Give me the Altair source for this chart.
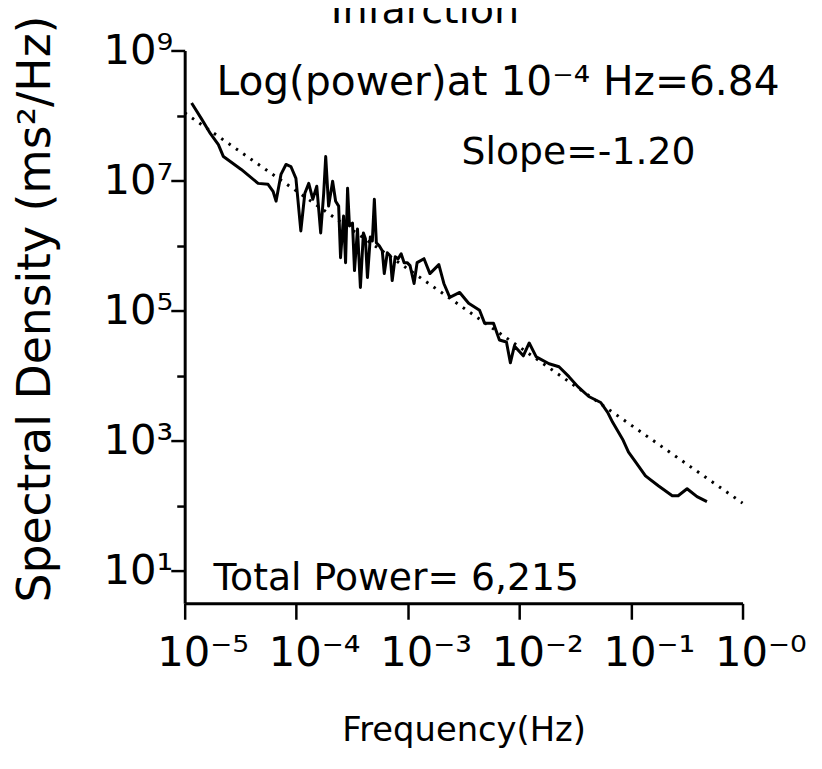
import json
import altair as alt
import pandas as pd

# ---- data (log10 values) ----
log_freq = [-4.938, -4.849, -4.769, -4.698, -4.653, -4.493, -4.342, -4.253, -4.208, -4.181,
            -4.137, -4.092, -4.048, -4.003, -3.959, -3.923, -3.888, -3.852, -3.816, -3.781,
            -3.754, -3.736, -3.710, -3.674, -3.647, -3.620, -3.603, -3.576, -3.558, -3.540,
            -3.523, -3.496, -3.478, -3.451, -3.425, -3.398, -3.380, -3.362, -3.336, -3.318,
            -3.300, -3.282, -3.256, -3.229, -3.211, -3.184, -3.158, -3.140, -3.113, -3.087,
            -3.060, -3.033, -3.006, -2.980, -2.944, -2.917, -2.855, -2.802, -2.722, -2.677,
            -2.624, -2.535, -2.455, -2.357, -2.312, -2.232, -2.179, -2.116, -2.081, -2.045,
            -1.965, -1.912, -1.849, -1.734, -1.645, -1.556, -1.476, -1.378, -1.271, -1.209,
            -1.164, -1.075, -1.022, -0.959, -0.870, -0.755, -0.630, -0.577, -0.497, -0.408,
            -0.319]
log_psd = [8.192, 7.948, 7.720, 7.552, 7.369, 7.171, 6.957, 6.942, 6.835, 6.683,
           7.094, 7.247, 7.216, 7.034, 6.226, 6.805, 6.957, 6.713, 6.912, 6.195,
           6.805, 7.369, 6.607, 6.988, 6.683, 6.607, 5.814, 6.454, 5.738, 6.881,
           6.302, 6.348, 5.616, 6.256, 5.357, 6.195, 6.104, 5.509, 6.134, 6.073,
           6.713, 6.043, 5.997, 5.921, 5.570, 5.890, 5.845, 5.463, 5.829, 5.799,
           5.875, 5.738, 5.738, 5.692, 5.418, 5.738, 5.799, 5.570, 5.707, 5.418,
           5.204, 5.280, 5.113, 5.006, 4.808, 4.808, 4.549, 4.518, 4.198, 4.457,
           4.305, 4.503, 4.290, 4.183, 4.137, 3.985, 3.832, 3.680, 3.588, 3.436,
           3.283, 3.024, 2.826, 2.674, 2.460, 2.308, 2.155, 2.155, 2.262, 2.140,
           2.064]

# fitted regression line (dotted), end points
fit_freq = [1e-5, 1.0]
fit_psd = [1.1e8, 110.0]

x_ticks = [1e-5, 1e-4, 1e-3, 1e-2, 1e-1, 1.0]
x_tick_labels = ["10⁻⁵", "10⁻⁴", "10⁻³", "10⁻²", "10⁻¹", "10⁻⁰"]
y_ticks = [1e1, 1e2, 1e3, 1e4, 1e5, 1e6, 1e7, 1e8, 1e9]
y_tick_labels = ["", "10¹", "", "10³", "", "10⁵", "", "10⁷", "", "10⁹"]

title_text = "Infarction"
note_texts = ["Log(power)at 10⁻⁴ Hz=6.84", "Slope=-1.20", "Total Power= 6,215"]

FONT = "DejaVu Sans"

spec_df = pd.DataFrame({"freq": [10 ** v for v in log_freq],
                        "psd": [10 ** v for v in log_psd]})
fit_df = pd.DataFrame({"freq": fit_freq, "psd": fit_psd})

x_label_expr = json.dumps(x_tick_labels, ensure_ascii=False) + "[round(log(datum.value)/LN10)+5]"
y_label_expr = json.dumps(y_tick_labels, ensure_ascii=False) + "[round(log(datum.value)/LN10)]"

x_scale = alt.Scale(type="log", domain=[1e-5, 1.0], nice=False)
y_scale = alt.Scale(type="log", domain=[10 ** 0.5, 1e9], nice=False)

x_axis = alt.Axis(values=x_ticks, labelExpr=x_label_expr, title="Frequency(Hz)",
                  tickSize=16, labelPadding=14, labelOffset=18, labelFontSize=42,
                  labelOverlap=False, labelFlush=False, labelAlign="center",
                  titleFontSize=34, titleY=128, titleBaseline="middle", grid=False)
y_axis = alt.Axis(values=y_ticks, labelExpr=y_label_expr,
                  title="Spectral Density (ms²/Hz)",
                  tickSize={"condition": {"test": "round(log(datum.value)/LN10) % 2 == 1", "value": 14},
                            "value": 8},
                  labelPadding=-2, labelFontSize=42, labelOverlap=False, labelFlush=False,
                  titleFontSize=46, titleX=-150, titleY=260, titleBaseline="middle", grid=False)

fit = alt.Chart(fit_df).mark_line(color="black", strokeWidth=3, strokeDash=[2.5, 6.5]).encode(
    x=alt.X("freq:Q", scale=x_scale, axis=x_axis),
    y=alt.Y("psd:Q", scale=y_scale, axis=y_axis),
)
spec = alt.Chart(spec_df).mark_line(color="black", strokeWidth=3, strokeJoin="round").encode(
    x=alt.X("freq:Q", scale=x_scale, axis=x_axis),
    y=alt.Y("psd:Q", scale=y_scale, axis=y_axis),
)

def label(text, x, y, size, align="left"):
    return alt.Chart(pd.DataFrame({"t": [text]})).mark_text(
        font=FONT, fontSize=size, align=align, baseline="alphabetic", color="black"
    ).encode(text="t:N", x=alt.value(x), y=alt.value(y))

texts = [
    label(title_text, 242, -28, 40, "center"),
    label(note_texts[0], 32, 45, 41),
    label(note_texts[1], 279, 114, 38),
    label(note_texts[2], 29, 544, 38),
]

chart = alt.layer(fit, spec, *texts).properties(
    width=562, height=557,
    padding={"left": 178, "top": 40, "right": 72, "bottom": 152},
    autosize=alt.AutoSizeParams(type="none"),
).configure_view(strokeOpacity=0).configure_axis(
    domainColor="black", domainWidth=3, tickColor="black", tickWidth=2.5,
    labelFont=FONT, titleFont=FONT, labelColor="black", titleColor="black",
    titleFontWeight="normal",
)

chart.save("out.html", embed_options={"renderer": "svg", "actions": False})
